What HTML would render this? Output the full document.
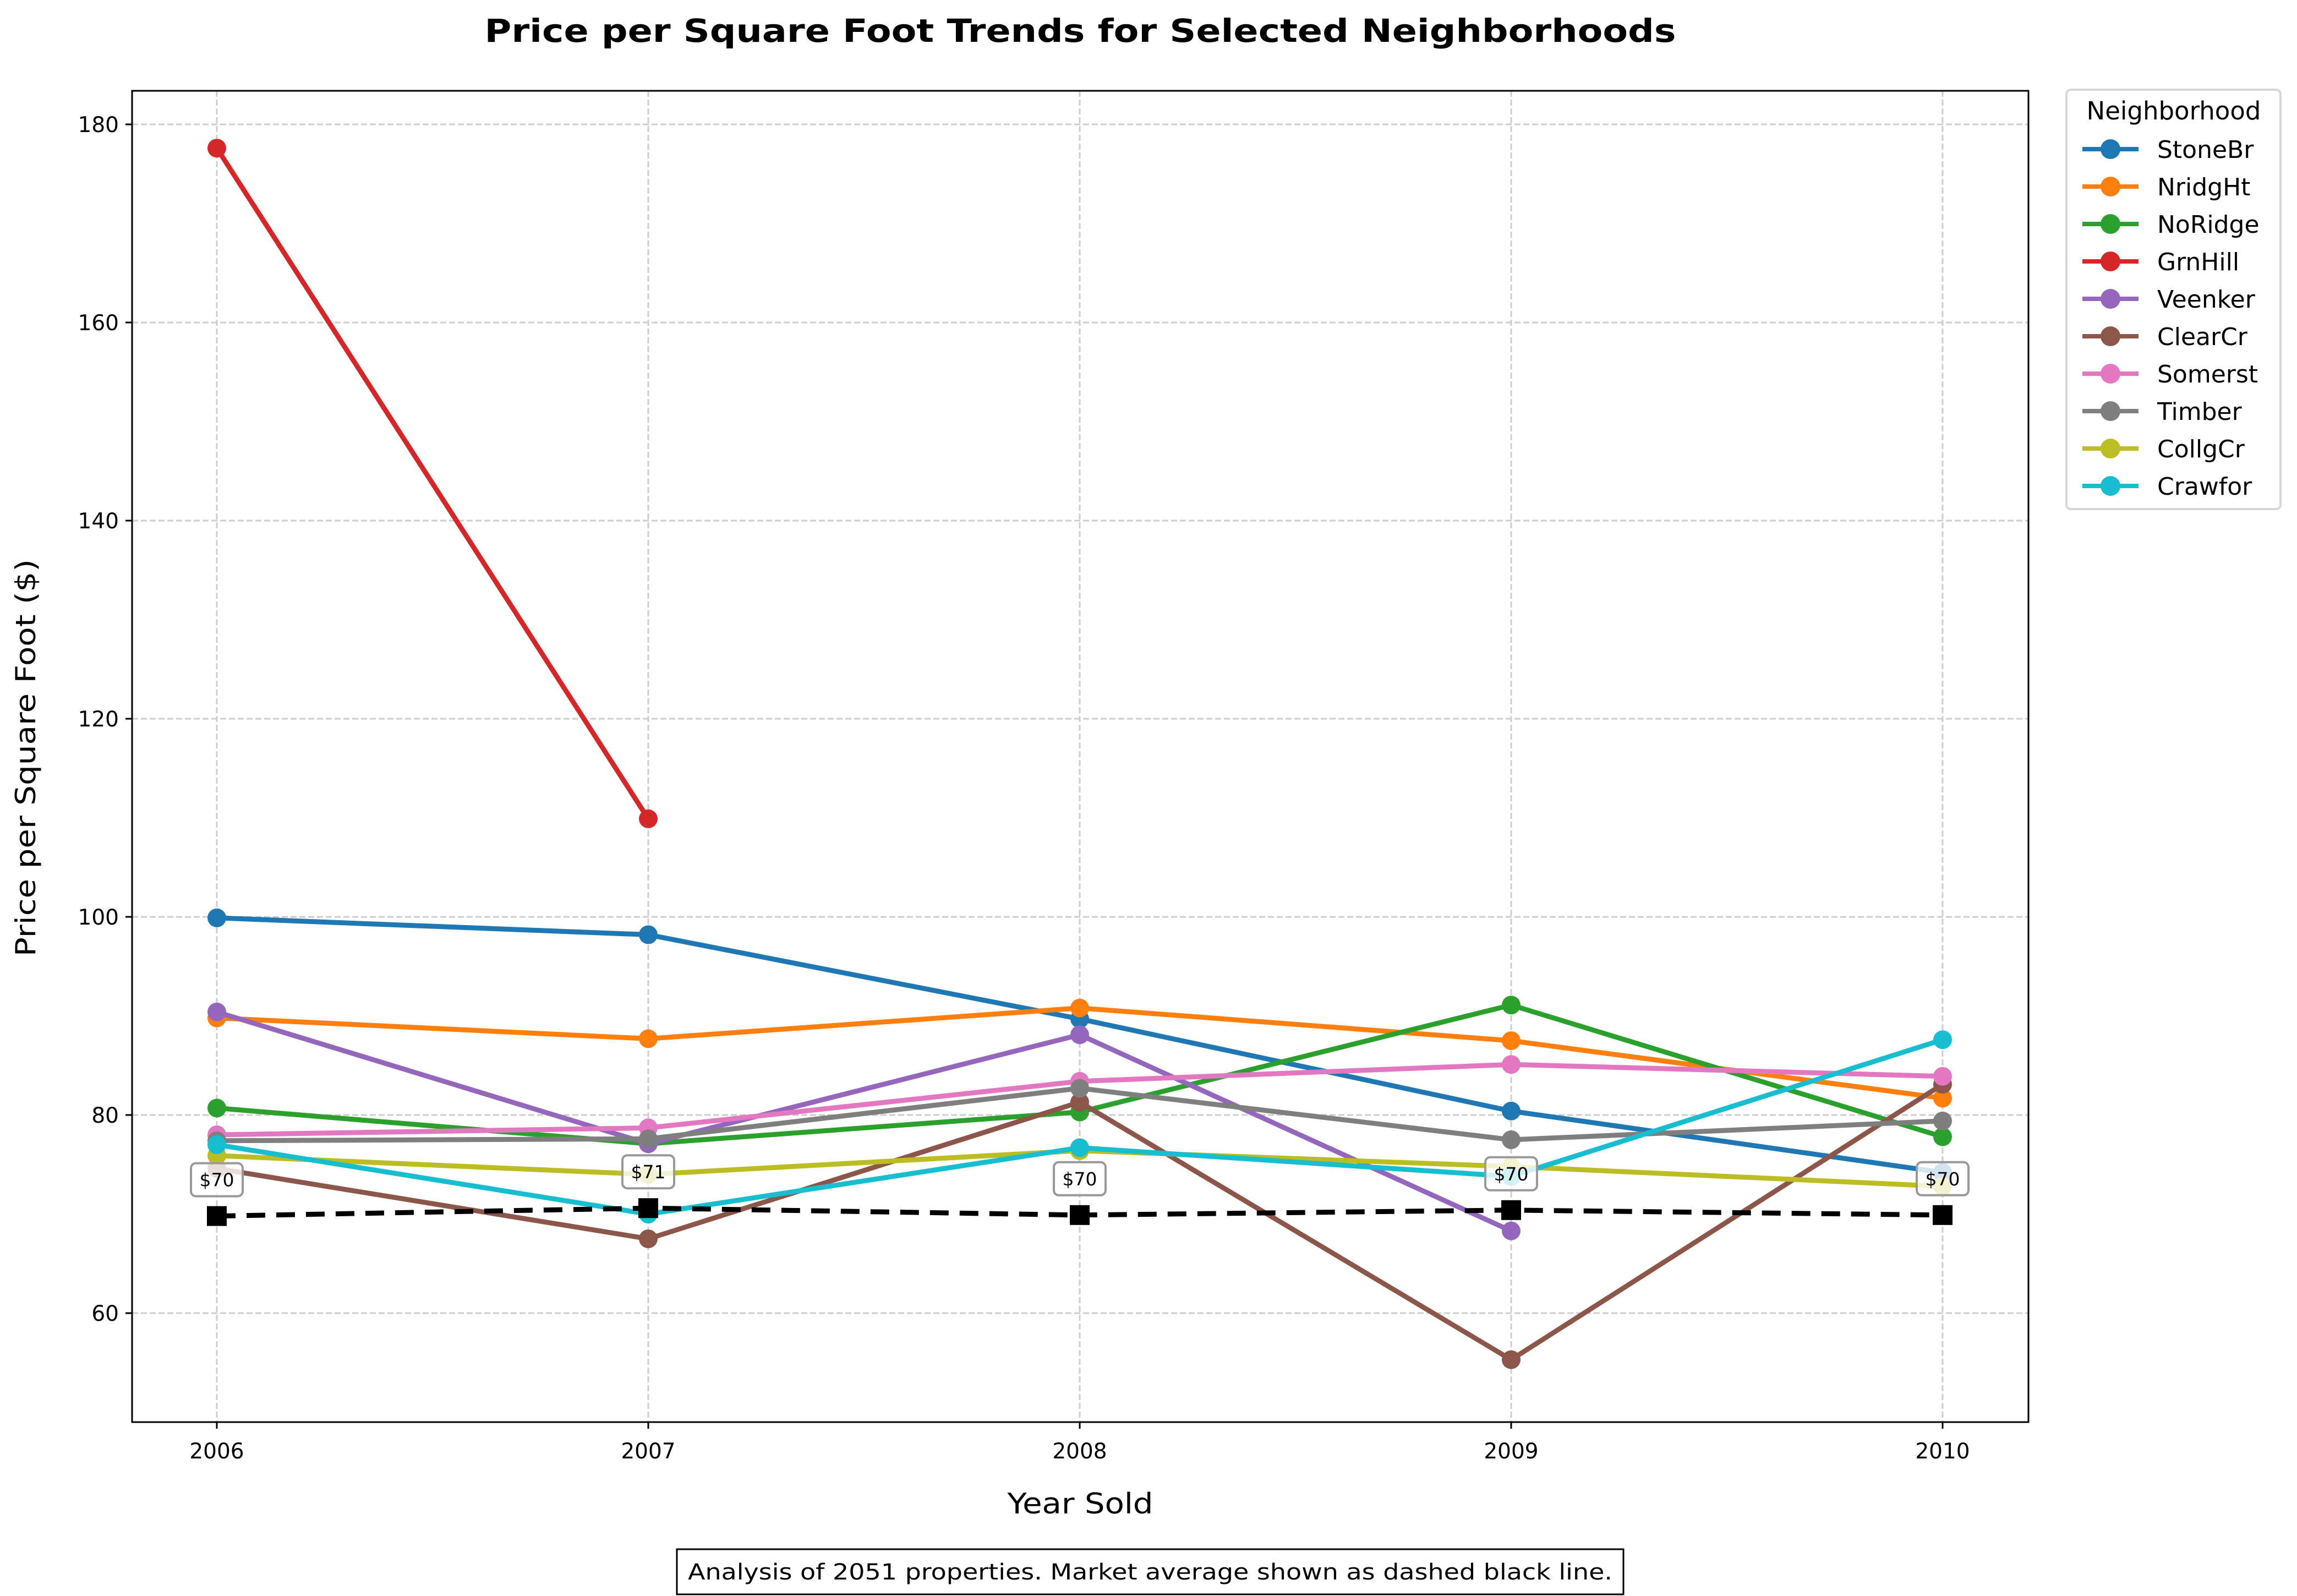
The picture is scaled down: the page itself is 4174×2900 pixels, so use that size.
<!DOCTYPE html>
<html><head><meta charset="utf-8"><style>
html,body{margin:0;padding:0;background:#fff;}
svg{display:block;font-family:"DejaVu Sans","Liberation Sans",sans-serif;}
</style></head><body>
<svg id="chart" width="4174" height="2900" viewBox="0 0 4174 2900" xmlns="http://www.w3.org/2000/svg">
<rect x="0" y="0" width="4174" height="2900" fill="#fff"/>
<text x="1963" y="76" text-anchor="middle" font-size="58" font-weight="bold" textLength="2165" lengthAdjust="spacingAndGlyphs">Price per Square Foot Trends for Selected Neighborhoods</text>
<g id="grid"></g>
<g id="series"></g>
<g id="axes"></g>
<text transform="translate(64,1377) rotate(-90)" text-anchor="middle" font-size="50" textLength="722" lengthAdjust="spacingAndGlyphs">Price per Square Foot ($)</text>
<text x="1963" y="2750" text-anchor="middle" font-size="52" textLength="265" lengthAdjust="spacingAndGlyphs">Year Sold</text>
<g>
<rect x="1230" y="2815" width="1720" height="82" fill="#fff" stroke="#000" stroke-width="3"/>
<text x="2090" y="2870" text-anchor="middle" font-size="40" textLength="1680" lengthAdjust="spacingAndGlyphs">Analysis of 2051 properties. Market average shown as dashed black line.</text>
</g>
<g id="legend"></g>
</svg>
<script>
const years = [2006, 2007, 2008, 2009, 2010];
const names = ["StoneBr","NridgHt","NoRidge","GrnHill","Veenker","ClearCr","Somerst","Timber","CollgCr","Crawfor"];
const colors = ["#1f77b4","#ff7f0e","#2ca02c","#d62728","#9467bd","#8c564b","#e377c2","#7f7f7f","#bcbd22","#17becf"];
const stoneBr = [99.9, 98.2, 89.7, 80.4, 74.2];
const nridgHt = [89.8, 87.7, 90.8, 87.5, 81.7];
const noRidge = [80.7, 77.1, 80.3, 91.1, 77.8];
const grnHill = [177.6, 109.9, null, null, null];
const veenker = [90.4, 77.1, 88.1, 68.3, null];
const clearCr = [74.6, 67.5, 81.3, 55.3, 83.1];
const somerst = [78.0, 78.7, 83.4, 85.1, 83.9];
const timber = [77.4, 77.6, 82.7, 77.5, 79.4];
const collgCr = [75.9, 74.0, 76.4, 74.8, 72.8];
const crawfor = [77.0, 70.0, 76.7, 73.8, 87.6];
const marketAvg = [69.8, 70.6, 69.9, 70.4, 69.9];
const avgLabels = ["$70","$71","$70","$70","$70"];
const yTicks = [60, 80, 100, 120, 140, 160, 180];
const allSeries = [stoneBr, nridgHt, noRidge, grnHill, veenker, clearCr, somerst, timber, collgCr, crawfor];

const NS = "http://www.w3.org/2000/svg";
const L = 240, R = 3686, T = 165, B = 2584;
function xS(yr){ return 394 + (yr - 2006) * 784; }
function yS(v){ return 2386 - (v - 60) * 18; }
function mk(tag, attrs, parent){ const e = document.createElementNS(NS, tag); for (const k in attrs) e.setAttribute(k, attrs[k]); parent.appendChild(e); return e; }

const grid = document.getElementById('grid');
yTicks.forEach(v => {
  const g = mk('line', {x1:L, x2:R, y1:yS(v), y2:yS(v), stroke:'#cccccc', 'stroke-width':3, 'stroke-dasharray':'11,5'}, grid);
  
  
});
years.forEach(yr => {
  const g = mk('line', {x1:xS(yr), x2:xS(yr), y1:T, y2:B, stroke:'#cccccc', 'stroke-width':3, 'stroke-dasharray':'11,5'}, grid);
  
  
});

const sg = document.getElementById('series');
allSeries.forEach((s, i) => {
  const grp = mk('g', {}, sg);
  
  
  const pts = [];
  s.forEach((v, j) => { if (v !== null) pts.push([xS(years[j]), yS(v)]); });
  const pl = mk('polyline', {points: pts.map(p => p.join(',')).join(' '), fill:'none', stroke:colors[i], 'stroke-width':9, 'stroke-linejoin':'round'}, grp);
  
  
  pts.forEach(p => {
    const c = mk('circle', {cx:p[0], cy:p[1], r:17, fill:colors[i]}, grp);
    
    
  });
});
const ag = mk('g', {}, sg);


const apl = mk('polyline', {points: marketAvg.map((v, j) => xS(years[j]) + ',' + yS(v)).join(' '), fill:'none', stroke:'#000', 'stroke-width':9, 'stroke-dasharray':'34,20'}, ag);


marketAvg.forEach((v, j) => {
  const x = xS(years[j]), y = yS(v);
  const sq = mk('rect', {x:x-18, y:y-18, width:36, height:36, fill:'#000'}, ag);
  
  
  const bx = mk('rect', {x:x-47, y:y-96, width:94, height:60, rx:9, fill:'#fff', 'fill-opacity':0.8, stroke:'#999', 'stroke-width':4}, ag);
  
  
  const t = mk('text', {x:x, y:y-54, 'text-anchor':'middle', 'font-size':33}, ag);
  t.textContent = avgLabels[j];
  
  
});

const ax = document.getElementById('axes');
const frame = mk('rect', {x:L, y:T, width:R-L, height:B-T, fill:'none', stroke:'#000', 'stroke-width':3}, ax);


yTicks.forEach(v => {
  const tk = mk('line', {x1:L-12, x2:L, y1:yS(v), y2:yS(v), stroke:'#000', 'stroke-width':3}, ax);
  
  
  const t = mk('text', {x:L-24, y:yS(v)+14, 'text-anchor':'end', 'font-size':39}, ax);
  t.textContent = v;
  
  
});
years.forEach(yr => {
  const tk = mk('line', {x1:xS(yr), x2:xS(yr), y1:B, y2:B+12, stroke:'#000', 'stroke-width':3}, ax);
  
  
  const t = mk('text', {x:xS(yr), y:B+66, 'text-anchor':'middle', 'font-size':39}, ax);
  t.textContent = yr;
  
  
});

const lg = document.getElementById('legend');
const lbox = mk('rect', {x:3755, y:163, width:389, height:762, rx:8, fill:'#fff', stroke:'#d6d6d6', 'stroke-width':4}, lg);


const lt = mk('text', {x:3950, y:217, 'text-anchor':'middle', 'font-size':45}, lg);
lt.textContent = 'Neighborhood';


names.forEach((n, i) => {
  const y = 271 + i * 68;
  const e = mk('g', {}, lg);
  
  
  mk('line', {x1:3784, x2:3886, y1:y, y2:y, stroke:colors[i], 'stroke-width':8}, e);
  mk('circle', {cx:3835, cy:y, r:18, fill:colors[i]}, e);
  const t = mk('text', {x:3920, y:y+16, 'font-size':44}, e);
  t.textContent = n;
});
</script>
</body></html>
